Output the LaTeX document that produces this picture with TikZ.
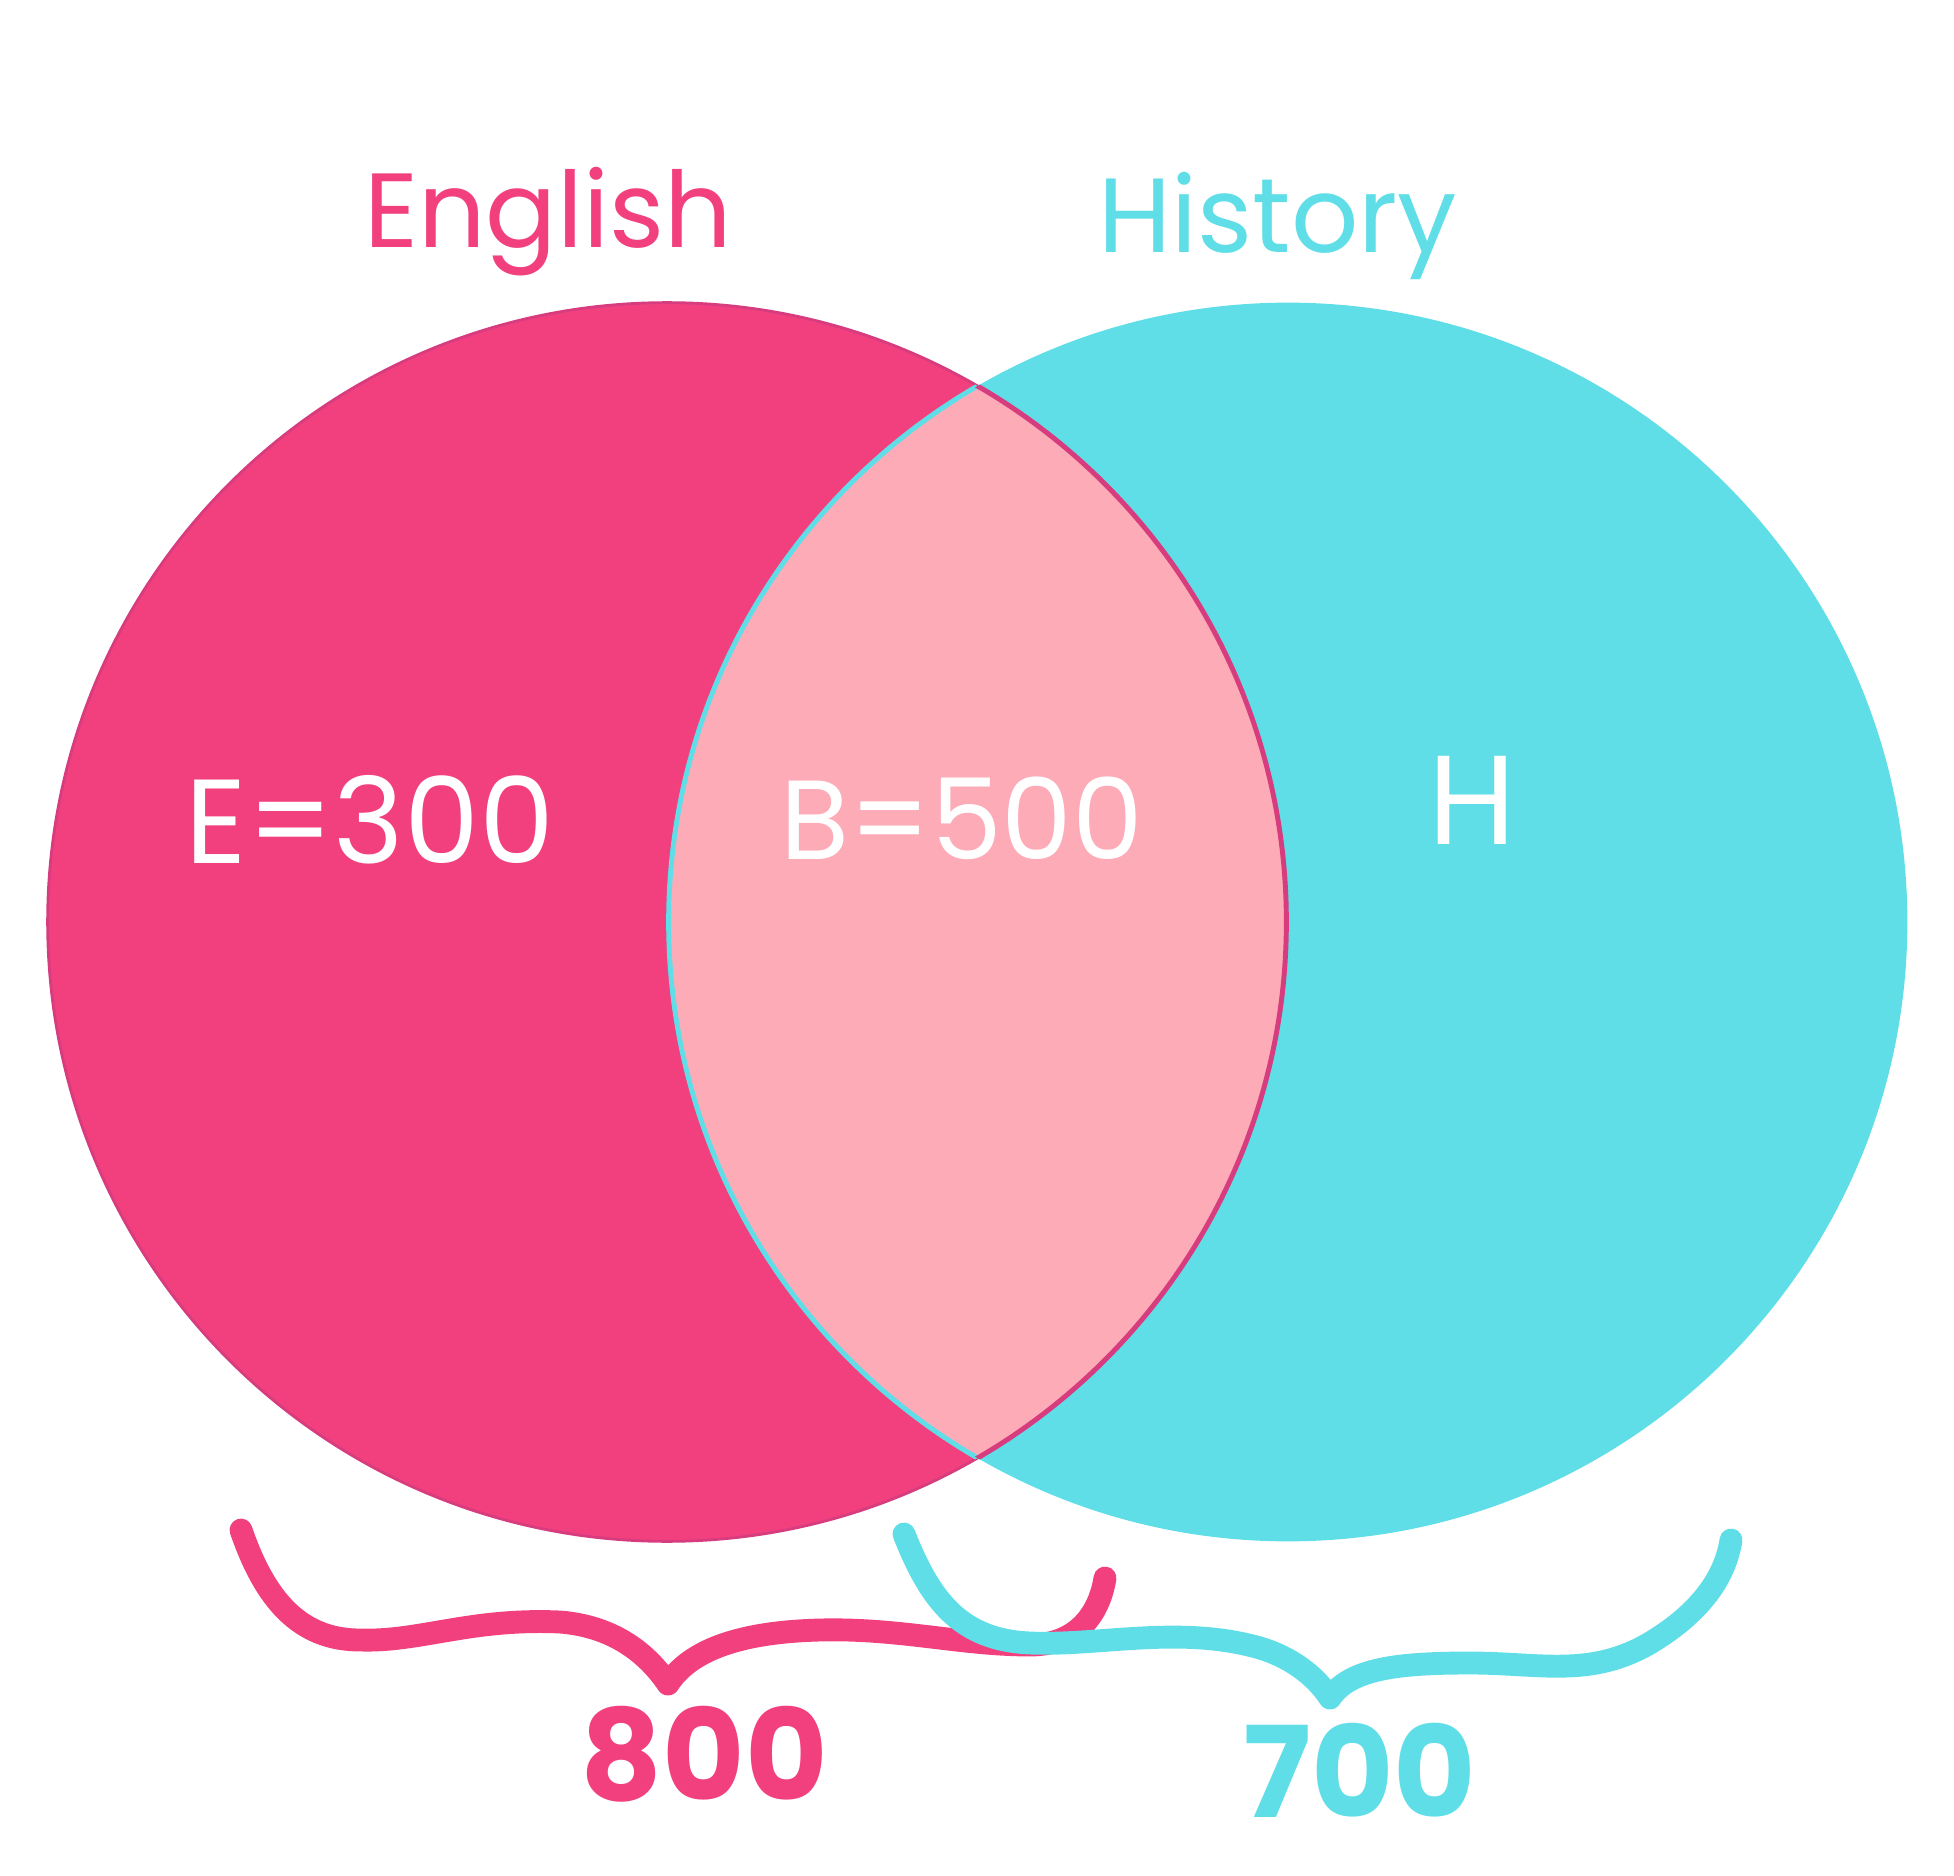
\documentclass[tikz,border=0pt]{standalone}
\usepackage{fontspec}
\setmainfont{Poppins}
\usetikzlibrary{positioning}
\definecolor{engpink}{HTML}{F2407E}
\definecolor{engedge}{HTML}{D63C7E}
\definecolor{histcyan}{HTML}{5FDEE8}
\definecolor{bothpink}{HTML}{FDABB7}

\begin{document}
\begin{tikzpicture}[
  x=0.01cm, y=-0.01cm,
  setcircle/.style={circle, inner sep=0pt, minimum size=12.38cm},
  setname/.style={font=\fontsize{30}{34}\selectfont},
  count/.style={font=\fontsize{34}{40}\selectfont, text=white},
  total/.style={font=\fontsize{36}{42}\selectfont\bfseries},
  brace/.style={line width=6.5pt, line cap=round, line join=round},
]
\useasboundingbox (0,0) rectangle (1954,1876);

% the two sets
\node[setcircle, fill=engpink, draw=engedge, line width=0.8pt] (english) at (667,922) {};
\node[setcircle, fill=histcyan] (history) at (1288,922) {};

% overlap
\begin{scope}
  \clip (english.center) circle (6.19cm);
  \fill[bothpink] (history.center) circle (6.19cm);
  \draw[histcyan, line width=1.4pt] (history.center) circle (6.19cm);
\end{scope}
\begin{scope}
  \clip (history.center) circle (6.19cm);
  \draw[engedge, line width=1.4pt] (english.center) circle (6.19cm);
\end{scope}

\node[setname, text=engpink] (english-name) at (548,222) {English};
\node[setname, text=histcyan] (history-name) at (1278,226) {History};

\node[count] (e-count) at (370,820) {E=300};
\node[count, font=\fontsize{32}{38}\selectfont] (b-count) at (962,818) {B=500};
\node[count, font=\fontsize{36}{42}\selectfont] (h-count) at (1472,800) {H};

% braces
\draw[brace, engpink] (241,1530) .. controls (265,1600) and (300,1640) .. (360,1640)
  .. controls (420,1642) and (470,1618) .. (560,1622)
  .. controls (610,1626) and (645,1650) .. (668,1684)
  .. controls (690,1650) and (740,1632) .. (820,1630)
  .. controls (900,1628) and (960,1645) .. (1030,1645)
  .. controls (1080,1645) and (1100,1610) .. (1105,1578);
\draw[brace, histcyan] (904,1534) .. controls (930,1600) and (960,1640) .. (1030,1643)
  .. controls (1100,1646) and (1180,1625) .. (1260,1648)
  .. controls (1290,1657) and (1315,1675) .. (1330,1698)
  .. controls (1350,1668) and (1400,1663) .. (1470,1663)
  .. controls (1540,1663) and (1590,1678) .. (1650,1643)
  .. controls (1700,1613) and (1725,1578) .. (1731,1540);

\node[total, text=engpink] (english-total) at (704,1754) {800};
\node[total, text=histcyan] (history-total) at (1360,1770) {700};

\end{tikzpicture}
\end{document}
